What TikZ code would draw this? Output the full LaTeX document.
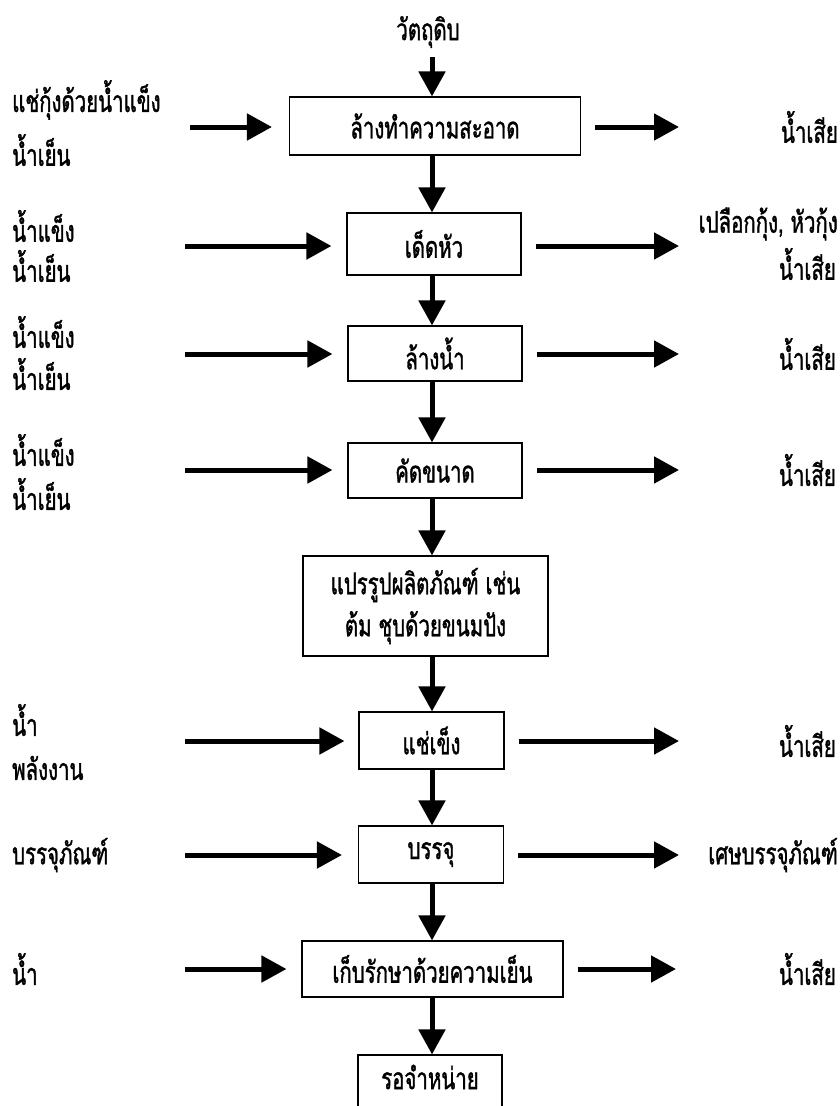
\documentclass[tikz,border=0pt]{standalone}
\usepackage{fontspec}
\newfontfamily\thaifont[Script=Thai,FakeStretch=0.68,FakeBold=1.2]{Loma}
\usetikzlibrary{arrows.meta}
\tikzset{
  txt/.style={font=\thaifont\fontsize{30}{34}\selectfont, inner sep=0pt},
  procbox/.style={draw, line width=1.1pt, txt, align=center, anchor=center},
  arr/.style={line width=5pt, -{Triangle[length=25pt,width=26pt]}},
  lab/.style={txt, anchor=west},
  rlab/.style={txt, anchor=east},
}
\begin{document}
\begin{tikzpicture}[x=1pt,y=-1pt]
\useasboundingbox (0,0) rectangle (840,1106);
\fill[white] (0,0) rectangle (840,1106);
% main column
\node[txt] (raw) at (428,32) {วัตถุดิบ};
\coordinate (rawend) at (432,57);
\node[procbox, minimum width=291pt, minimum height=58pt] (b1) at (435,126) {ล้างทำความสะอาด};
\node[procbox, minimum width=174pt, minimum height=62pt] (b2) at (434,244) {เด็ดหัว};
\node[procbox, minimum width=174pt, minimum height=55pt] (b3) at (435,353.5) {ล้างน้ำ};
\node[procbox, minimum width=174pt, minimum height=55pt] (b4) at (435,470.5) {คัดขนาด};
\node[procbox, minimum width=245pt, minimum height=100pt] (b5) at (425.5,606) {แปรรูปผลิตภัณฑ์ เช่น\\[8pt]ต้ม ชุบด้วยขนมปัง};
\node[procbox, minimum width=145pt, minimum height=57pt] (b6) at (431.5,740.5) {แช่เข็ง};
\node[procbox, minimum width=145pt, minimum height=57pt] (b7) at (431,854.5) {บรรจุ};
\node[procbox, minimum width=261pt, minimum height=56pt] (b8) at (432.5,969) {เก็บรักษาด้วยความเย็น};
\node[procbox, minimum width=144pt, minimum height=62pt] (b9) at (430,1086) {};
\node[txt] (b9t) at (430,1077) {รอจำหน่าย};

\draw[arr] (rawend) -- (rawend |- b1.north);
\foreach \a/\b in {b1/b2,b2/b3,b3/b4,b4/b5,b5/b6,b6/b7,b7/b8,b8/b9}
  \draw[arr] (432,0 |- \a.south) -- (432,0 |- \b.north);

% left labels
\node[lab] (l1a) at (12,100) {แช่กุ้งด้วยน้ำแข็ง};
\node[lab] (l1b) at (12,150) {น้ำเย็น};
\node[lab] (l2a) at (12,226) {น้ำแข็ง};
\node[lab] (l2b) at (12,266) {น้ำเย็น};
\node[lab] (l3a) at (12,332) {น้ำแข็ง};
\node[lab] (l3b) at (12,374) {น้ำเย็น};
\node[lab] (l4a) at (12,450) {น้ำแข็ง};
\node[lab] (l4b) at (12,494) {น้ำเย็น};
\node[lab] (l6a) at (12,720) {น้ำ};
\node[lab] (l6b) at (12,768) {พลังงาน};
\node[lab] (l7) at (12,855) {บรรจุภัณฑ์};
\node[lab] (l8) at (12,969) {น้ำ};

% right labels
\node[rlab] (r1) at (838,127) {น้ำเสีย};
\node[rlab] (r2a) at (838,224) {เปลือกกุ้ง, หัวกุ้ง};
\node[rlab] (r2b) at (836,264) {น้ำเสีย};
\node[rlab] (r3) at (836,354) {น้ำเสีย};
\node[rlab] (r4) at (836,470) {น้ำเสีย};
\node[rlab] (r6) at (836,741) {น้ำเสีย};
\node[rlab] (r7) at (838,855) {เศษบรรจุภัณฑ์};
\node[rlab] (r8) at (836,969) {น้ำเสีย};

% side arrow ends
\coordinate (i1) at (190,127);
\coordinate (i2) at (185,246);
\coordinate (i3) at (185,354);
\coordinate (i4) at (185,470);
\coordinate (i6) at (185,741);
\coordinate (i7) at (185,855);
\coordinate (i8) at (185,969);
\coordinate (o1) at (679,127);
\coordinate (o2) at (679,246);
\coordinate (o3) at (679,354);
\coordinate (o4) at (679,470);
\coordinate (o6) at (679,741);
\coordinate (o7) at (679,855);
\coordinate (o8) at (676,969);

\foreach \n/\g in {1/17,2/15,3/15,4/15,6/14,7/16,8/15}{
  \draw[arr, shorten >=\g pt] (i\n) -- (i\n -| b\n.west);
  \draw[arr, shorten <=14pt] (o\n -| b\n.east) -- (o\n);
}
\end{tikzpicture}
\end{document}
